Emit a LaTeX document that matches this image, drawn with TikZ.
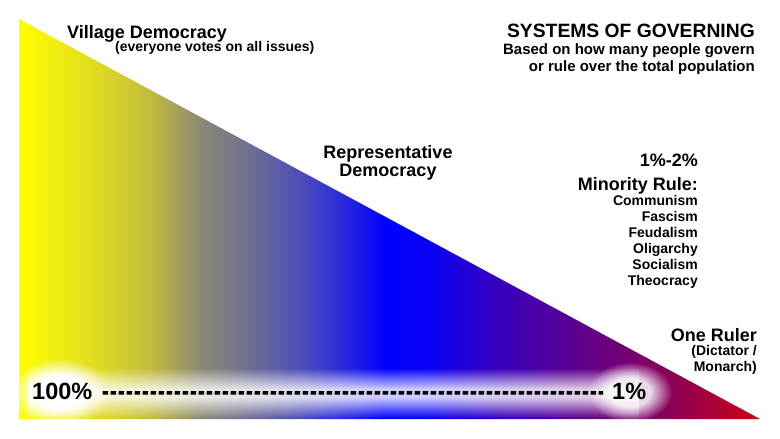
\documentclass[tikz,border=0pt]{standalone}
\usepackage{fontspec}
\setmainfont{Liberation Sans}
\usetikzlibrary{fadings}

\pgfdeclarehorizontalshading{govshade}{100bp}{rgb(0bp)=(1,1,0); rgb(25bp)=(1,1,0); rgb(30.5bp)=(0.87,0.85,0.14); rgb(33.8bp)=(0.76,0.74,0.24); rgb(37.2bp)=(0.55,0.54,0.45); rgb(40.6bp)=(0.43,0.43,0.58); rgb(44bp)=(0.3,0.3,0.72); rgb(47.3bp)=(0.14,0.14,0.88); rgb(49.7bp)=(0,0,1); rgb(52.7bp)=(0.03,0,0.96); rgb(56.8bp)=(0.2,0,0.76); rgb(61.5bp)=(0.33,0,0.6); rgb(68.3bp)=(0.52,0,0.36); rgb(75bp)=(0.8,0,0.08); rgb(100bp)=(0.8,0,0.08)}
\pgfdeclareverticalshading{bandshade}{100bp}{color(0bp)=(pgftransparent!100); color(25bp)=(pgftransparent!100); color(46bp)=(pgftransparent!0); color(54bp)=(pgftransparent!0); color(75bp)=(pgftransparent!100); color(100bp)=(pgftransparent!100)}
\pgfdeclarefading{bandfade}{\pgfuseshading{bandshade}}
\pgfdeclareradialshading{glowshade}{\pgfpointorigin}{color(0bp)=(pgftransparent!0); color(12bp)=(pgftransparent!0); color(25bp)=(pgftransparent!100); color(50bp)=(pgftransparent!100)}
\pgfdeclarefading{glowfade}{\pgfuseshading{glowshade}}

\begin{document}
\begin{tikzpicture}[x=1pt, y=-1pt,
    bighead/.style={inner sep=0pt, font=\bfseries\fontsize{18}{18}\selectfont},
    smallhead/.style={inner sep=0pt, font=\bfseries\fontsize{14}{16}\selectfont},
    pct/.style={inner sep=0pt, font=\bfseries\fontsize{23.5}{24}\selectfont},
    dashline/.style={line width=3.4pt, dash pattern=on 5.7pt off 2.3pt}]
      \useasboundingbox (0,0) rectangle (780,439);
      \shade[shading=govshade] (19,19) -- (19,419) -- (760,419) -- cycle;
      \fill[white, opacity=0.8, path fading=bandfade] (28,368) rectangle (640,418);
      \fill[white, path fading=glowfade] (60,392) ellipse [x radius=50, y radius=34];
      \fill[white, opacity=0.85, path fading=glowfade] (630,392) ellipse [x radius=42, y radius=30];
      \node[bighead, anchor=base west] (village) at (67,38) {Village Democracy};
      \node[smallhead, anchor=base west] (everyone) at (115,52) {(everyone votes on all issues)};
      \node[inner sep=0pt, font=\bfseries\fontsize{19.3}{20}\selectfont, anchor=base east] (title) at (755,37) {SYSTEMS OF GOVERNING};
      \node[inner sep=0pt, font=\bfseries\fontsize{15}{17}\selectfont, align=right, anchor=north east] (basis) at (755,43) {Based on how many people govern\\or rule over the total population};
      \node[bighead, align=center, anchor=north] (represent) at (388,145) {Representative\\Democracy};
      \node[bighead, anchor=base east] (range) at (698,166) {1\%-2\%};
      \node[bighead, anchor=base east] (minority) at (698,190) {Minority Rule:};
      \node[smallhead, align=right, anchor=north east] (kinds) at (698,195) {Communism\\Fascism\\Feudalism\\Oligarchy\\Socialism\\Theocracy};
      \node[bighead, anchor=base east] (ruler) at (757,341) {One Ruler};
      \node[smallhead, align=right, anchor=north east] (dictator) at (757,345) {(Dictator /\\Monarch)};
      \node[pct, anchor=base west] (pct100) at (32,399) {100\%};
      \node[pct, anchor=base west] (pct1) at (612,399) {1\%};
      \draw[dashline] ([xshift=10pt, yshift=-2pt]pct100.east) -- ([xshift=-9pt, yshift=-2pt]pct1.west);
    \end{tikzpicture}
\end{document}
